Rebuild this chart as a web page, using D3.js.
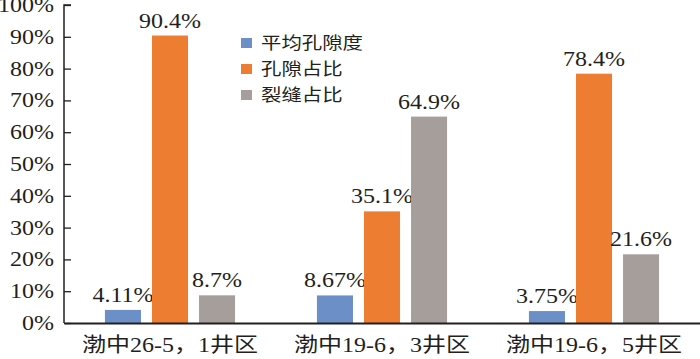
<!DOCTYPE html>
<html><head><meta charset="utf-8">
<script src="https://cdn.jsdelivr.net/npm/d3@7"></script>
<style>
html,body{margin:0;padding:0;background:#fff;}
svg{display:block;}
</style></head>
<body>
<svg id="c" width="700" height="359"></svg>
<script>
const categories = ["渤中26-5，1井区", "渤中19-6，3井区", "渤中19-6，5井区"];
const seriesNames = ["平均孔隙度", "孔隙占比", "裂缝占比"];
const avgPorosity = [4.11, 8.67, 3.75];
const poreRatio = [90.4, 35.1, 78.4];
const fractureRatio = [8.7, 64.9, 21.6];
const valueLabels = [["4.11%", "8.67%", "3.75%"], ["90.4%", "35.1%", "78.4%"], ["8.7%", "64.9%", "21.6%"]];
const yTicks = [0, 10, 20, 30, 40, 50, 60, 70, 80, 90, 100];
const colors = ["#6b8fc6", "#ed7d31", "#a59e9a"];

const series = [avgPorosity, poreRatio, fractureRatio];
const svg = d3.select("#c");
const sx = 1.2; // horizontal stretch of the original figure
const serif = "Liberation Serif, Tinos, Times New Roman, Times, DejaVu Serif, Noto Sans CJK SC, serif";
const ink = "#231f20";

const x0 = d3.scaleBand().domain(categories).range([64, 700]);
const x1 = d3.scaleBand().domain(seriesNames).range([0, x0.bandwidth()]).paddingInner(0.234).paddingOuter(0.87);
const y = d3.scaleLinear().domain([0, 100]).range([323, 5]);

// bars
series.forEach((vals, si) => {
  svg.append("g").selectAll("rect").data(vals).join("rect")
    .attr("x", (d, i) => x0(categories[i]) + x1(seriesNames[si]))
    .attr("y", d => y(d))
    .attr("width", x1.bandwidth())
    .attr("height", d => y(0) - y(d))
    .attr("fill", colors[si]);
  svg.append("g").selectAll("text").data(vals).join("text")
    .attr("transform", (d, i) => `translate(${x0(categories[i]) + x1(seriesNames[si]) + x1.bandwidth() / 2},${y(d) - 8}) scale(${sx},1)`)
    .attr("text-anchor", "middle")
    .style("font-family", serif).attr("font-size", 20).attr("fill", ink)
    .text((d, i) => valueLabels[si][i]);
});

// y axis
const yAxis = d3.axisRight(y).tickValues(yTicks).tickSize(7).tickFormat("");
const ga = svg.append("g").attr("transform", "translate(64,0)").call(yAxis);
ga.select(".domain").attr("stroke", ink).attr("stroke-width", 1.5).attr("d", `M7,${y(100)}H0V${y(0)}`);
ga.selectAll(".tick line").attr("stroke", ink).attr("stroke-width", 1.3);
svg.append("g").selectAll("text").data(yTicks).join("text")
  .attr("transform", d => `translate(54,${y(d) + 7}) scale(${sx},1)`)
  .attr("text-anchor", "end")
  .style("font-family", serif).attr("font-size", 20).attr("fill", ink)
  .text(d => d + "%");

// x axis
const xAxis = d3.axisBottom(x0).tickSize(0).tickFormat("");
const gx = svg.append("g").attr("transform", `translate(0,${y(0)})`).call(xAxis);
gx.select(".domain").attr("stroke", ink).attr("stroke-width", 2);
svg.append("g").selectAll("text").data(categories).join("text")
  .attr("transform", d => `translate(${x0(d) + x0.bandwidth() / 2},352) scale(${sx},1)`)
  .attr("text-anchor", "middle")
  .style("font-family", serif).attr("font-size", 20).attr("fill", ink)
  .text(d => d);

// legend
const lg = svg.append("g").selectAll("g").data(seriesNames).join("g")
  .attr("transform", (d, i) => `translate(241,${43 + i * 26})`);
lg.append("rect").attr("x", 0).attr("y", -5).attr("width", 11).attr("height", 10).attr("fill", (d, i) => colors[i]);
lg.append("text").attr("transform", `translate(20,6) scale(${sx},1)`)
  .style("font-family", serif).attr("font-size", 17).attr("fill", ink)
  .text(d => d);
</script>
</body></html>
